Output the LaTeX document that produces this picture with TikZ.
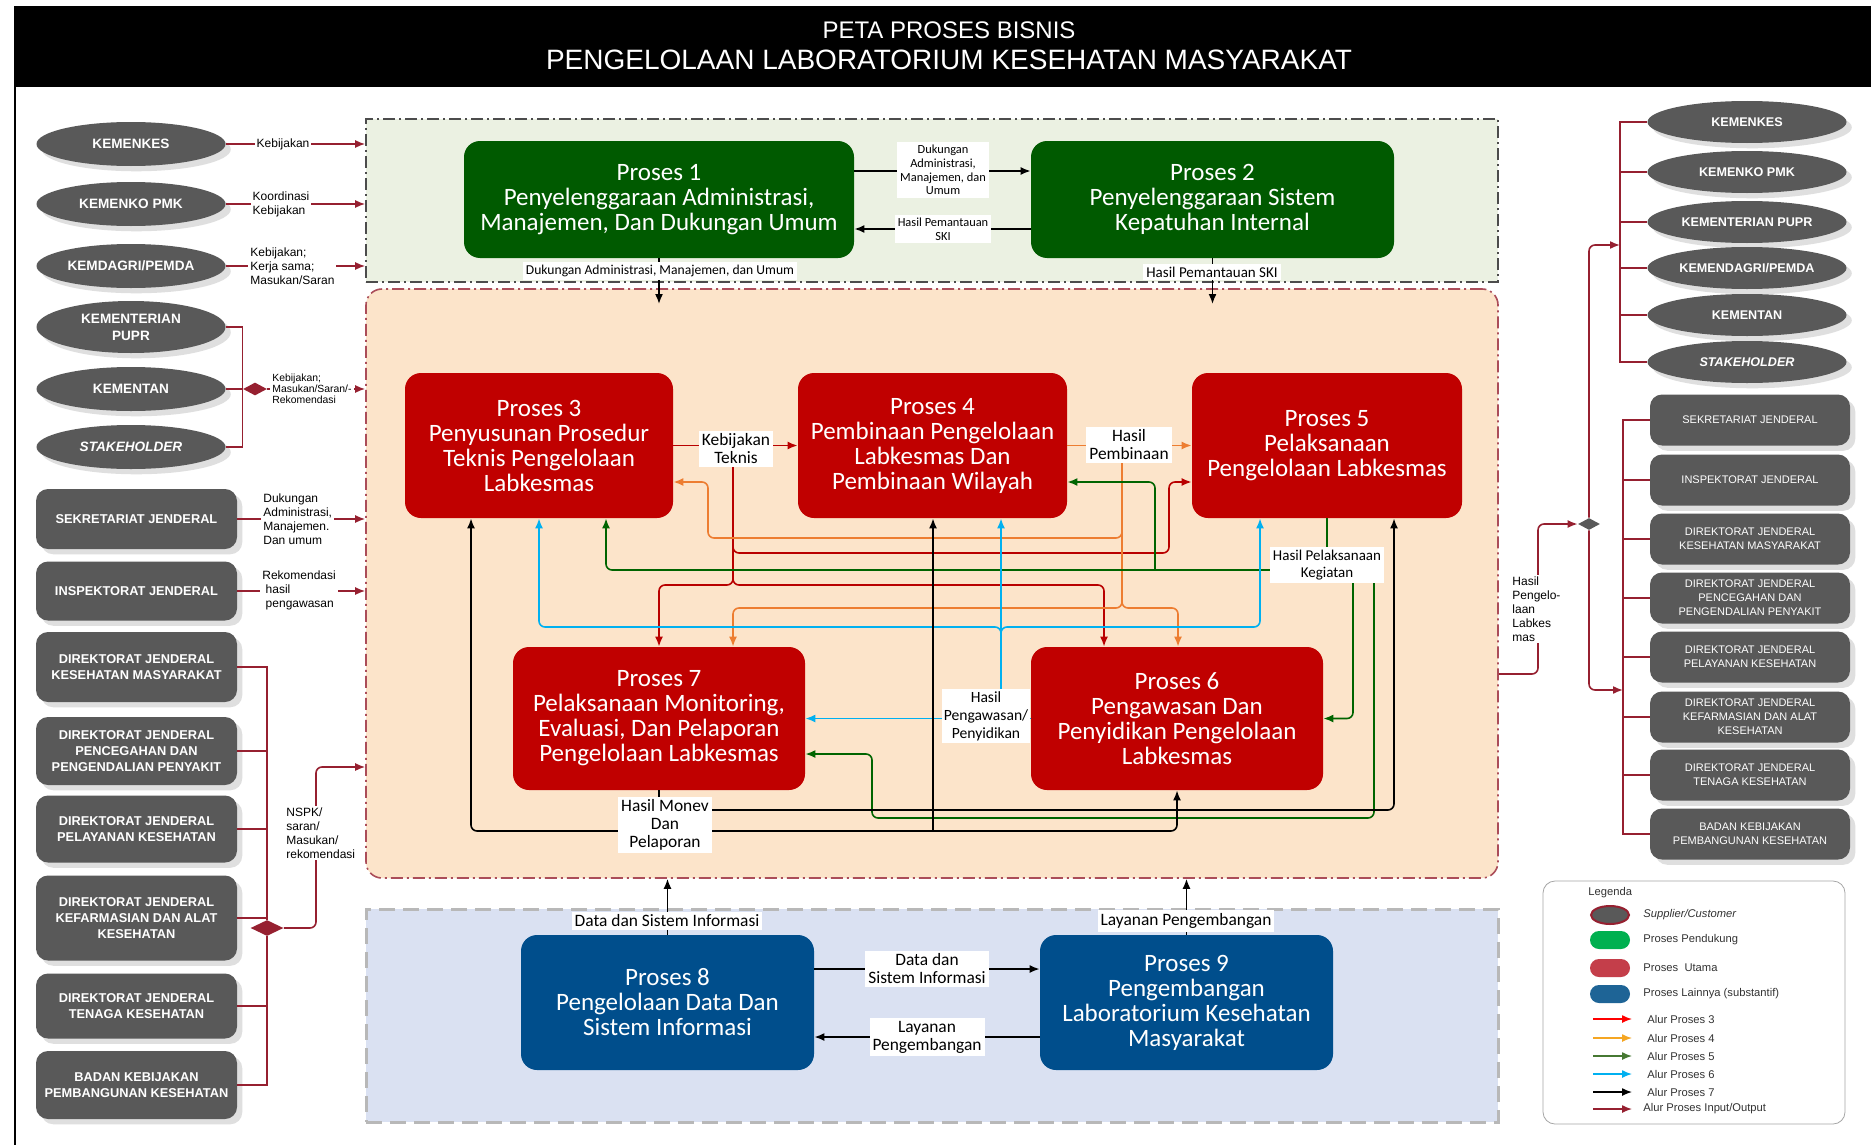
\documentclass[tikz,border=0pt]{standalone}
\usepackage{fontspec}
\setmainfont{Liberation Sans}
\newfontfamily\carlito{Carlito}
\usetikzlibrary{shapes.geometric, arrows.meta, positioning, calc, shadows}

\definecolor{procgreen}{RGB}{0, 90, 0}
\definecolor{procred}{RGB}{192, 0, 0}
\definecolor{procblue}{RGB}{0, 78, 140}
\definecolor{unitgray}{RGB}{89, 89, 89}
\definecolor{iored}{RGB}{150, 32, 48}
\definecolor{zonegreen}{RGB}{235, 241, 226}
\definecolor{zoneorange}{RGB}{252, 228, 202}
\definecolor{zoneblue}{RGB}{218, 225, 242}
\definecolor{alurred}{RGB}{185, 0, 0}
\definecolor{alurorange}{RGB}{237, 125, 49}
\definecolor{alurgreen}{RGB}{0, 100, 0}
\definecolor{alurcyan}{RGB}{0, 176, 240}
\definecolor{leggreen}{RGB}{0, 176, 80}
\definecolor{legred}{RGB}{196, 62, 74}
\definecolor{legblue}{RGB}{30, 100, 150}
\definecolor{legorange}{RGB}{245, 166, 35}
\definecolor{legolive}{RGB}{70, 120, 50}

\tikzset{
  zone/.style={inner sep=0pt, minimum width=566pt},
  proc/.style={rounded corners=8pt, text=white, align=center, inner sep=0pt,
    font=\carlito\fontsize{12.5}{12.5}\selectfont},
  supp/.style={ellipse, fill=unitgray, text=white, inner sep=0pt, align=center,
    minimum width=94.5pt, minimum height=22pt, drop shadow={opacity=0.25},
    font=\bfseries\fontsize{6.8}{8.5}\selectfont},
  rsupp/.style={supp, minimum width=99.5pt, minimum height=21pt,
    font=\bfseries\fontsize{6.3}{8}\selectfont},
  unit/.style={rounded corners=6pt, fill=unitgray, text=white, align=center, inner sep=0pt,
    minimum width=100.5pt, drop shadow={opacity=0.25},
    font=\bfseries\fontsize{6.4}{8}\selectfont},
  runit/.style={unit, minimum width=100pt, minimum height=25.5pt,
    font=\fontsize{5.5}{7}\selectfont},
  ioline/.style={iored, line width=0.8pt},
  iolink/.style={iored, line width=0.8pt, -{Latex[length=5pt,width=4pt]}},
  iotag/.style={fill=white, inner sep=1pt, align=left, font=\fontsize{6}{7}\selectfont},
  flow/.style={black, line width=0.8pt, -{Latex[length=5pt,width=4pt]}},
  alur/.style={line width=0.8pt, rounded corners=3pt, -{Latex[length=5pt,width=4pt]}},
  tag/.style={fill=white, inner sep=1.5pt, align=center, font=\carlito\fontsize{8.7}{9}\selectfont},
  smalltag/.style={tag, font=\carlito\fontsize{6.2}{6.8}\selectfont},
  legtext/.style={anchor=west, inner sep=0pt, text=black!80, font=\fontsize{5.6}{6}\selectfont},
  legpill/.style={rounded corners=4.5pt, minimum width=20pt, minimum height=9pt, inner sep=0pt},
  legarrow/.style={line width=0.7pt, -{Latex[length=5pt,width=4pt]}},
}

\begin{document}
\begin{tikzpicture}[x=0.5pt, y=-0.5pt]
  \useasboundingbox (0,0) rectangle (1871,1145);
  \fill[white] (0,0) rectangle (1871,1145);

  \fill[black] (14,6) rectangle (1871,87);
  \draw[black, line width=1pt] (15,87) -- (15,1145);
  \node[text=white, font=\fontsize{12}{12}\selectfont] (judulatas) at (949,30) {PETA PROSES BISNIS};
  \node[text=white, font=\fontsize{14}{14}\selectfont] (judulbawah) at (949,60) {PENGELOLAAN LABORATORIUM KESEHATAN MASYARAKAT};

  \node[zone, fill=zonegreen, draw=black!70, minimum height=81.5pt, line width=0.8pt,
    dash pattern=on 6pt off 2pt on 1pt off 2pt] (zsupport) at (932,200.5) {};
  \node[zone, fill=zoneorange, draw=iored!80, minimum height=294.5pt, rounded corners=8pt, line width=0.8pt,
    dash pattern=on 6pt off 2pt on 1pt off 2pt] (zmain) at (932,583.5) {};
  \node[zone, fill=zoneblue, draw=black!28, minimum height=106.5pt, line width=1.5pt,
    dash pattern=on 8pt off 4pt] (zother) at (932,1015.5) {};

  \node[proc, fill=procgreen, minimum width=195pt, minimum height=58.5pt] (p1) at (659,199.5) {Proses 1\\Penyelenggaraan Administrasi,\\Manajemen, Dan Dukungan Umum};
  \node[proc, fill=procgreen, minimum width=181.5pt, minimum height=58.5pt] (p2) at (1212.5,199.5) {Proses 2\\Penyelenggaraan Sistem\\Kepatuhan Internal};
  \node[proc, fill=procred, minimum width=134pt, minimum height=72.5pt] (p3) at (539,445.5) {Proses 3\\Penyusunan Prosedur\\Teknis Pengelolaan\\Labkesmas};
  \node[proc, fill=procred, minimum width=134.5pt, minimum height=72.5pt] (p4) at (932.5,445.5) {Proses 4\\Pembinaan Pengelolaan\\Labkesmas Dan\\Pembinaan Wilayah};
  \node[proc, fill=procred, minimum width=135pt, minimum height=72.5pt] (p5) at (1327,445.5) {Proses 5\\Pelaksanaan\\Pengelolaan Labkesmas};
  \node[proc, fill=procred, minimum width=146pt, minimum height=71.5pt] (p7) at (659,718.5) {Proses 7\\Pelaksanaan Monitoring,\\Evaluasi, Dan Pelaporan\\Pengelolaan Labkesmas};
  \node[proc, fill=procred, minimum width=146pt, minimum height=71.5pt] (p6) at (1177,718.5) {Proses 6\\Pengawasan Dan\\Penyidikan Pengelolaan\\Labkesmas};
  \node[proc, fill=procblue, minimum width=146.5pt, minimum height=67.5pt] (p8) at (667.5,1002.5) {Proses 8\\Pengelolaan Data Dan\\Sistem Informasi};
  \node[proc, fill=procblue, minimum width=146.5pt, minimum height=67.5pt] (p9) at (1186.5,1002.5) {Proses 9\\Pengembangan\\Laboratorium Kesehatan\\Masyarakat};

  \node[supp] (kemenkes) at (131,144) {KEMENKES};
  \node[supp] (kemenko) at (131,204) {KEMENKO PMK};
  \node[supp] (kemdagri) at (131,266) {KEMDAGRI/PEMDA};
  \node[supp, minimum height=26pt] (pupr) at (131,327) {KEMENTERIAN\\PUPR};
  \node[supp] (kementan) at (131,389) {KEMENTAN};
  \node[supp] (stakeholder) at (131,447) {\itshape STAKEHOLDER};

  \node[unit, minimum height=30pt] (sekjen) at (136.5,519) {SEKRETARIAT JENDERAL};
  \node[unit, minimum height=29.5pt] (irjen) at (136.5,591) {INSPEKTORAT JENDERAL};
  \node[unit, minimum height=35pt] (djkesmas) at (136.5,667) {DIREKTORAT JENDERAL\\KESEHATAN MASYARAKAT};
  \node[unit, minimum height=34pt] (djp2p) at (136.5,751) {DIREKTORAT JENDERAL\\PENCEGAHAN DAN\\PENGENDALIAN PENYAKIT};
  \node[unit, minimum height=33.5pt] (djyankes) at (136.5,829) {DIREKTORAT JENDERAL\\PELAYANAN KESEHATAN};
  \node[unit, minimum height=42.5pt] (djfarmalkes) at (136.5,918) {DIREKTORAT JENDERAL\\KEFARMASIAN DAN ALAT\\KESEHATAN};
  \node[unit, minimum height=32.5pt] (djnakes) at (136.5,1006) {DIREKTORAT JENDERAL\\TENAGA KESEHATAN};
  \node[unit, minimum height=34pt] (bkpk) at (136.5,1085) {BADAN KEBIJAKAN\\PEMBANGUNAN KESEHATAN};

  \node[rsupp] (rkemenkes) at (1747,122) {KEMENKES};
  \node[rsupp] (rkemenko) at (1747,172) {KEMENKO PMK};
  \node[rsupp] (rpupr) at (1747,222) {KEMENTERIAN PUPR};
  \node[rsupp] (rkemendagri) at (1747,268) {KEMENDAGRI/PEMDA};
  \node[rsupp] (rkementan) at (1747,315) {KEMENTAN};
  \node[rsupp] (rstakeholder) at (1747,362) {\itshape STAKEHOLDER};

  \node[runit] (rsekjen) at (1750,420) {SEKRETARIAT JENDERAL};
  \node[runit] (rirjen) at (1750,480) {INSPEKTORAT JENDERAL};
  \node[runit] (rdjkesmas) at (1750,539) {DIREKTORAT JENDERAL\\KESEHATAN MASYARAKAT};
  \node[runit] (rdjp2p) at (1750,598) {DIREKTORAT JENDERAL\\PENCEGAHAN DAN\\PENGENDALIAN PENYAKIT};
  \node[runit] (rdjyankes) at (1750,657) {DIREKTORAT JENDERAL\\PELAYANAN KESEHATAN};
  \node[runit] (rdjfarmalkes) at (1750,717) {DIREKTORAT JENDERAL\\KEFARMASIAN DAN ALAT\\KESEHATAN};
  \node[runit] (rdjnakes) at (1750,775) {DIREKTORAT JENDERAL\\TENAGA KESEHATAN};
  \node[runit] (rbkpk) at (1750,834) {BADAN KEBIJAKAN\\PEMBANGUNAN KESEHATAN};

  % input dari supplier
  \draw[iolink] (kemenkes.east) -- (zsupport.west |- kemenkes.east);
  \draw[iolink] (kemenko.east) -- (zsupport.west |- kemenko.east);
  \draw[iolink] (kemdagri.east) -- (zsupport.west |- kemdagri.east);
  \node[iotag] (tkebijakan) at (283,144) {Kebijakan};
  \node[iotag] (tkoordinasi) at (281,204) {Koordinasi\\Kebijakan};
  \node[iotag, anchor=west] (tkerjasama) at (248,266) {Kebijakan;\\Kerja sama;\\Masukan/Saran};

  \node[diamond, fill=iored, inner sep=0pt, minimum width=12pt, minimum height=6.5pt] (dmdkiri) at (255,389) {};
  \draw[ioline] (pupr.east) -| (dmdkiri.west);
  \draw[ioline] (stakeholder.east) -| (dmdkiri.west);
  \draw[ioline] (kementan.east) -- (dmdkiri.west);
  \draw[iolink] (dmdkiri.east) -- (zmain.west |- dmdkiri.east);
  \node[iotag, anchor=west, font=\fontsize{5.2}{5.6}\selectfont] (trekomendasi) at (270,389) {Kebijakan;\\Masukan/Saran/-\\Rekomendasi};

  \draw[iolink] (sekjen.east) -- (zmain.west |- sekjen.east);
  \node[iotag, anchor=west] (tdukungan) at (261,519) {Dukungan\\Administrasi,\\Manajemen.\\Dan umum};
  \draw[iolink] (irjen.east) -- (zmain.west |- irjen.east);
  \node[iotag, anchor=west] (trekwas) at (260,590) {Rekomendasi\\\ hasil\\\ pengawasan};

  \node[diamond, fill=iored, inner sep=0pt, minimum width=16.5pt, minimum height=8pt] (dmdbawah) at (267,928) {};
  \draw[ioline] (djkesmas.east) -| (dmdbawah.north);
  \draw[ioline] (djp2p.east) -| (dmdbawah.north);
  \draw[ioline] (djyankes.east) -| (dmdbawah.north);
  \draw[ioline] (djfarmalkes.east) -| (dmdbawah.north);
  \draw[ioline] (djnakes.east) -| (dmdbawah.south);
  \draw[ioline] (bkpk.east) -| (dmdbawah.south);
  \draw[iolink, rounded corners=3pt] (dmdbawah.east) -| (316,800) |- (zmain.west |- 0,767);
  \node[iotag, anchor=west] (tnspk) at (284,833) {NSPK/\\saran/\\Masukan/\\rekomendasi};

  % output ke customer
  \node[diamond, fill=unitgray, inner sep=0pt, minimum width=11pt, minimum height=6pt] (dmdkanan) at (1589,524) {};
  \coordinate (brkatas) at (1620,245);
  \coordinate (brkbawah) at (1623,690);
  \draw[iolink, rounded corners=3pt] (zmain.east |- 0,674) -| (1538,600) |- (dmdkanan.west);
  \node[iotag, anchor=west] (thasilkanan) at (1510,609) {Hasil\\Pengelo-\\laan\\Labkes\\mas};
  \draw[iolink, rounded corners=3pt] (dmdkanan.north) |- (brkatas);
  \draw[iolink, rounded corners=3pt] (dmdkanan.south) |- (brkbawah);
  \draw[ioline] (rkemenkes.west) -| (brkatas);
  \draw[ioline] (rkemenko.west) -| (brkatas);
  \draw[ioline] (rpupr.west) -| (brkatas);
  \draw[ioline] (rkemendagri.west) -| (brkatas);
  \draw[ioline] (rkementan.west) -| (brkatas);
  \draw[ioline] (rstakeholder.west) -| (brkatas);
  \draw[ioline] (rsekjen.west) -| (brkbawah);
  \draw[ioline] (rirjen.west) -| (brkbawah);
  \draw[ioline] (rdjkesmas.west) -| (brkbawah);
  \draw[ioline] (rdjp2p.west) -| (brkbawah);
  \draw[ioline] (rdjyankes.west) -| (brkbawah);
  \draw[ioline] (rdjfarmalkes.west) -| (brkbawah);
  \draw[ioline] (rdjnakes.west) -| (brkbawah);
  \draw[ioline] (rbkpk.west) -| (brkbawah);

  % proses pendukung
  \draw[flow] (p1.east |- 0,171) -- (p2.west |- 0,171);
  \draw[flow] (p2.west |- 0,229) -- (p1.east |- 0,229);
  \draw[flow] (p1.south) -- (p1.south |- 0,304);
  \draw[flow] (p2.south) -- (p2.south |- 0,304);
  \node[smalltag] (tdukp12) at (943,170) {Dukungan\\Administrasi,\\Manajemen, dan\\Umum};
  \node[smalltag] (tskip21) at (943,229) {Hasil Pemantauan\\SKI};
  \node[tag, font=\carlito\fontsize{6.8}{7}\selectfont] (tdukbawah) at (660,271) {Dukungan Administrasi, Manajemen, dan Umum};
  \node[tag, font=\carlito\fontsize{7.5}{8}\selectfont] (tskibawah) at (1212,272) {Hasil Pemantauan SKI};

  % proses lainnya
  \draw[flow] (p8.east |- 0,969) -- (p9.west |- 0,969);
  \draw[flow] (p9.west |- 0,1037) -- (p8.east |- 0,1037);
  \draw[flow] (p8.north) -- (p8.north |- zmain.south);
  \draw[flow] (p9.north) -- (p9.north |- zmain.south);
  \node[tag] (tdatasi) at (667,921) {Data dan Sistem Informasi};
  \node[tag] (tlayanan) at (1186,921) {Layanan Pengembangan};
  \node[tag] (tdata89) at (927,969) {Data dan\\Sistem Informasi};
  \node[tag] (tlayanan98) at (927,1037) {Layanan\\Pengembangan};

  % alur proses utama
  \draw[alur, alurred] (p3.east) -- (p4.west);
  \draw[alur, alurred] (733,445) |- (1169,553) |- (p5.west |- 0,482);
  \draw[alur, alurred] (733,445) -- (733,585) -| (p6.north -| 1104,0);
  \draw[alur, alurred] (733,445) -- (733,585) -| (p7.north);

  \draw[alur, alurorange] (p4.east) -- (p5.west);
  \draw[alur, alurorange] (1122,445) |- (708,538) |- (p3.east |- 0,482);
  \draw[alur, alurorange] (1122,445) |- (1178,608) -- (p6.north -| 1178,0);
  \draw[alur, alurorange] (1122,445) |- (733,608) -- (p7.north -| 733,0);

  \draw[alurgreen, line width=0.8pt] (p5.south) -- (1327,570);
  \draw[alur, alurgreen] (1327,570) -| (p3.south -| 606,0);
  \draw[alur, alurgreen] (1155,570) |- (p4.east |- 0,482);
  \draw[alur, alurgreen] (1353,570) |- (p6.east);
  \draw[alur, alurgreen] (1374,570) |- (872,818) |- (p7.east |- 0,754);

  \draw[alur, alurcyan] (p6.west) -- (p7.east);
  \draw[alur, alurcyan] (1001,718) -- (p4.south -| 1001,0);
  \draw[alur, alurcyan] (1001,718) -- (1001,627) -| (p3.south);
  \draw[alur, alurcyan] (1001,718) -- (1001,627) -| (p5.south -| 1260,0);

  \draw[black, line width=0.8pt] (p7.south) -- (p7.south |- 0,831);
  \draw[alur, black] (p7.south |- 0,831) -| (p3.south -| 471,0);
  \draw[alur, black] (p7.south |- 0,831) -| (p6.south);
  \draw[alur, black] (933,831) -- (p4.south -| 933,0);
  \draw[alur, black] (p7.south |- 0,810) -| (p5.south -| 1394,0);

  \node[tag] (tkebtek) at (736,449) {Kebijakan\\Teknis};
  \node[tag] (thpemb) at (1129,445) {Hasil\\Pembinaan};
  \node[tag, font=\carlito\fontsize{7.5}{8.5}\selectfont] (thpk) at (1327,565) {Hasil Pelaksanaan\\Kegiatan};
  \node[tag, font=\carlito\fontsize{7.8}{9}\selectfont, inner sep=1pt] (thpeng) at (986,716) {Hasil\\Pengawasan/\\Penyidikan};
  \node[tag] (thmonev) at (665,825) {Hasil Monev\\Dan\\Pelaporan};

  % legenda
  \node[draw=black!35, fill=white, rounded corners=6pt, minimum width=151pt, minimum height=121.5pt, inner sep=0pt] (legenda) at (1694,1002.5) {};
  \node[legtext] (tlegenda) at (1588,893) {Legenda};
  \node[ellipse, fill=unitgray, draw=iored, line width=1pt, minimum width=19pt, minimum height=9pt, inner sep=0pt] (lsupp) at (1610,915) {};
  \node[legtext, font=\itshape\fontsize{5.6}{6}\selectfont] (tsupp) at (1643,915) {Supplier/Customer};
  \node[legpill, fill=leggreen] (lpendukung) at (1610,940) {};
  \node[legtext] (tpendukung) at (1643,940) {Proses Pendukung};
  \node[legpill, fill=legred] (lutama) at (1610,968) {};
  \node[legtext] (tutama) at (1643,968) {Proses\ \ Utama};
  \node[legpill, fill=legblue] (llain) at (1610,994) {};
  \node[legtext] (tlain) at (1643,994) {Proses Lainnya (substantif)};
  \draw[legarrow, red] (1593,1019) -- (1632,1019);
  \node[legtext] (talur3) at (1647,1019) {Alur Proses 3};
  \draw[legarrow, legorange] (1593,1038) -- (1632,1038);
  \node[legtext] (talur4) at (1647,1038) {Alur Proses 4};
  \draw[legarrow, legolive] (1593,1056) -- (1632,1056);
  \node[legtext] (talur5) at (1647,1056) {Alur Proses 5};
  \draw[legarrow, alurcyan] (1593,1074) -- (1632,1074);
  \node[legtext] (talur6) at (1647,1074) {Alur Proses 6};
  \draw[legarrow, black] (1593,1092) -- (1632,1092);
  \node[legtext] (talur7) at (1647,1092) {Alur Proses 7};
  \draw[legarrow, iored] (1593,1109) -- (1632,1109);
  \node[legtext] (talurio) at (1643,1109) {Alur Proses Input/Output};
\end{tikzpicture}
\end{document}
